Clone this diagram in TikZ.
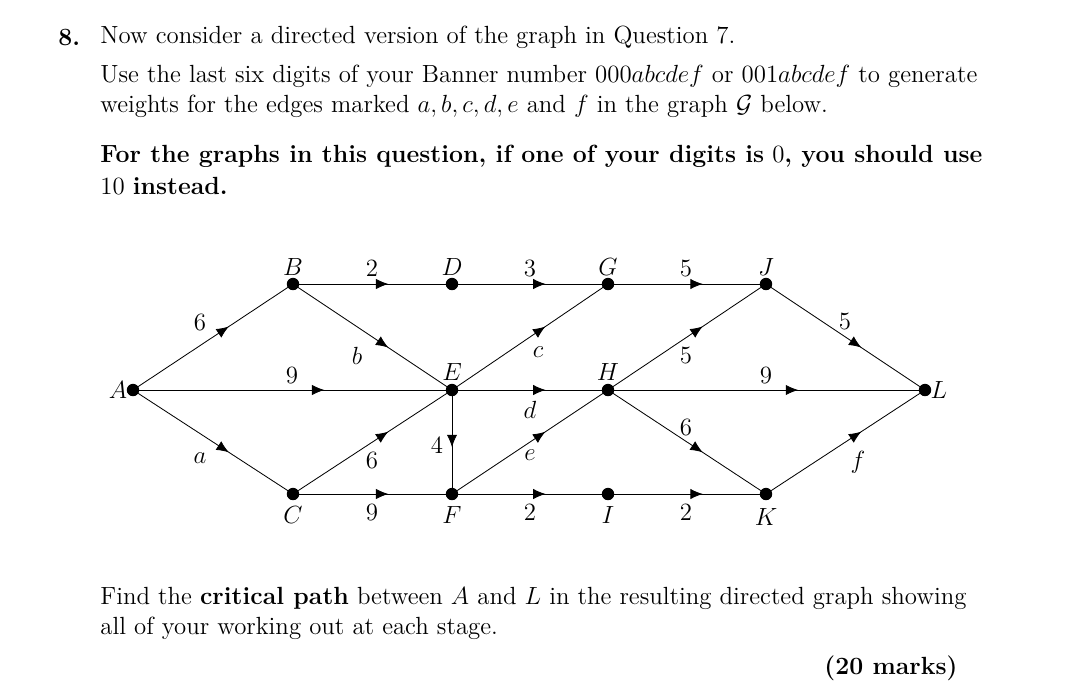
\documentclass[tikz,border=0pt]{standalone}
\usetikzlibrary{decorations.markings,arrows.meta}
\begin{document}
\begin{tikzpicture}[x=0.483pt,y=-0.483pt,
  vtx/.style={circle,fill=black,inner sep=0pt,minimum size=6pt},
  edg/.style={line width=0.4pt,postaction={decorate},decoration={markings,mark=at position 0.6 with {\arrow{Latex[length=6pt,width=5pt]}}}},
  txt/.style={anchor=west,inner sep=0pt,font=\fontsize{12}{14.5}\selectfont},
  lbl/.style={inner sep=1pt,font=\fontsize{12}{14.5}\selectfont}]
\useasboundingbox (0,0) rectangle (1066,699);
\node[txt,anchor=west] (n8) at (58,37) {\textbf{8.}};
\node[txt] (l1) at (100,37) {Now consider a directed version of the graph in Question 7.};
\node[txt] (l2) at (100,76) {Use the last six digits of your Banner number 000$abcdef$ or 001$abcdef$ to generate};
\node[txt] (l3) at (100,106) {weights for the edges marked $a,b,c,d,e$ and $f$ in the graph $\mathcal{G}$ below.};
\node[txt] (l4) at (100,156) {\textbf{For the graphs in this question, if one of your digits is} $0$\textbf{, you should use}};
\node[txt] (l5) at (100,186) {$10$ \textbf{instead.}};
\node[txt] (l6) at (100,598) {Find the \textbf{critical path} between $A$ and $L$ in the resulting directed graph showing};
\node[txt] (l7) at (100,628) {all of your working out at each stage.};
\node[txt,anchor=east] (l8) at (958,668) {\textbf{(20 marks)}};
% vertices
\node[vtx] (A) at (133,390) {};
\node[vtx] (B) at (293,284) {};
\node[vtx] (D) at (452,284) {};
\node[vtx] (G) at (608,284) {};
\node[vtx] (J) at (766,284) {};
\node[vtx] (E) at (452,390) {};
\node[vtx] (H) at (608,390) {};
\node[vtx] (L) at (925,390) {};
\node[vtx] (C) at (293,494) {};
\node[vtx] (F) at (452,494) {};
\node[vtx] (I) at (608,494) {};
\node[vtx] (K) at (766,494) {};
% vertex names
\node[lbl] (tA) at (118,390) {$A$};
\node[lbl] (tB) at (293,267) {$B$};
\node[lbl] (tD) at (452,267) {$D$};
\node[lbl] (tG) at (608,267) {$G$};
\node[lbl] (tJ) at (766,267) {$J$};
\node[lbl] (tE) at (452,372) {$E$};
\node[lbl] (tH) at (608,372) {$H$};
\node[lbl] (tL) at (939,390) {$L$};
\node[lbl] (tC) at (293,515) {$C$};
\node[lbl] (tF) at (452,515) {$F$};
\node[lbl] (tI) at (608,515) {$I$};
\node[lbl] (tK) at (766,517) {$K$};
% edges
\draw[edg] (A.center) -- (B.center);
\draw[edg] (A.center) -- (E.center);
\draw[edg] (A.center) -- (C.center);
\draw[edg] (B.center) -- (D.center);
\draw[edg] (B.center) -- (E.center);
\draw[edg] (D.center) -- (G.center);
\draw[edg] (E.center) -- (G.center);
\draw[edg] (G.center) -- (J.center);
\draw[edg] (H.center) -- (J.center);
\draw[edg] (J.center) -- (L.center);
\draw[edg] (E.center) -- (H.center);
\draw[edg] (H.center) -- (L.center);
\draw[edg] (C.center) -- (E.center);
\draw[line width=0.4pt,postaction={decorate},decoration={markings,mark=at position 0.55 with {\arrow{Latex[length=6pt,width=5pt]}}}] (E.center) -- (F.center);
\draw[edg] (F.center) -- (H.center);
\draw[edg] (H.center) -- (K.center);
\draw[edg] (C.center) -- (F.center);
\draw[edg] (F.center) -- (I.center);
\draw[edg] (I.center) -- (K.center);
\draw[edg] (K.center) -- (L.center);
% weights
\node[lbl] (w1) at (200,322) {$6$};
\node[lbl] (w2) at (292,375) {$9$};
\node[lbl] (w3) at (200,458) {$a$};
\node[lbl] (w4) at (372,268) {$2$};
\node[lbl] (w5) at (357,356) {$b$};
\node[lbl] (w6) at (530,268) {$3$};
\node[lbl] (w7) at (538,352) {$c$};
\node[lbl] (w8) at (686,268) {$5$};
\node[lbl] (w9) at (686,355) {$5$};
\node[lbl] (w10) at (766,375) {$9$};
\node[lbl] (w11) at (845,321) {$5$};
\node[lbl] (w12) at (530,410) {$d$};
\node[lbl] (w13) at (372,460) {$6$};
\node[lbl] (w14) at (437,445) {$4$};
\node[lbl] (w15) at (530,455) {$e$};
\node[lbl] (w16) at (686,427) {$6$};
\node[lbl] (w17) at (858,462) {$f$};
\node[lbl] (w18) at (372,512) {$9$};
\node[lbl] (w19) at (530,512) {$2$};
\node[lbl] (w20) at (686,512) {$2$};
\end{tikzpicture}
\end{document}
